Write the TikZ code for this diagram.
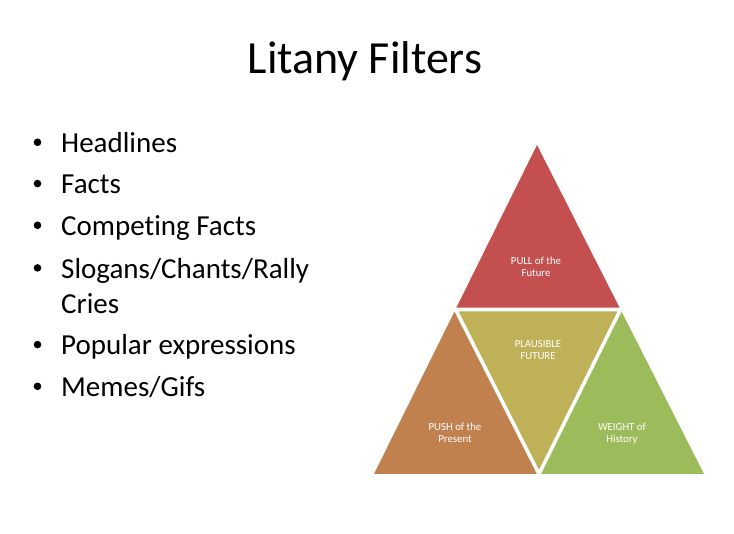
\documentclass[tikz,border=0pt]{standalone}
\usepackage{fontspec}
\setmainfont{Carlito}[Ligatures=NoCommon]
\definecolor{tred}{HTML}{C3504E}
\definecolor{tbrown}{HTML}{C1814F}
\definecolor{tolive}{HTML}{BFB157}
\definecolor{tgreen}{HTML}{9CBB5A}
\begin{document}
\begin{tikzpicture}[x=1pt,y=-1pt,
  item/.style={anchor=base west,inner sep=0pt,font=\fontsize{29}{33}\selectfont},
  bul/.style={circle,fill=black,inner sep=0pt,minimum size=7.6pt},
  tlabel/.style={align=center,text=white,inner sep=0pt,font=\fontsize{10.8}{12.2}\selectfont}]
\useasboundingbox[fill=white] (0,0) rectangle (734,534);
% title
\node[anchor=base,inner sep=0pt,font=\fontsize{46}{50}\selectfont] (title) at (365,73.3) {Litany Filters};
% bullets
\foreach \y [count=\i] in {152.7,194,235.7,278.3,355,396.7}{
  \node[bul] (b\i) at (37.5,\y-10.4) {};
}
\node[item] (t1) at (61,152.7) {Headlines};
\node[item] (t2) at (61,194) {Facts};
\node[item] (t3) at (61,235.7) {Competing Facts};
\node[item] (t4) at (61,278.3) {Slogans/Chants/Rally};
\node[item] (t4b) at (61,313.3) {Cries};
\node[item] (t5) at (61,355) {Popular expressions};
\node[item] (t6) at (61,396.7) {Memes/Gifs};
% triangle
\coordinate (A) at (537,145);
\coordinate (L) at (374,474);
\coordinate (R) at (704,474);
\coordinate (ML) at (455.5,309.5);
\coordinate (MR) at (620.5,309.5);
\coordinate (MB) at (539,474);
\fill[tred] (A) -- (ML) -- (MR) -- cycle;
\fill[tbrown] (ML) -- (L) -- (MB) -- cycle;
\fill[tolive] (ML) -- (MR) -- (MB) -- cycle;
\fill[tgreen] (MR) -- (MB) -- (R) -- cycle;
\draw[white,line width=3.6pt,line join=miter] (ML) -- (MR) -- (MB) -- cycle;
\node[tlabel] (pull) at (536,267) {PULL of the\\Future};
\node[tlabel] (plaus) at (538,350) {PLAUSIBLE\\FUTURE};
\node[tlabel] (push) at (455,433) {PUSH of the\\Present};
\node[tlabel] (weight) at (622,433.5) {WEIGHT of\\History};
\end{tikzpicture}
\end{document}
